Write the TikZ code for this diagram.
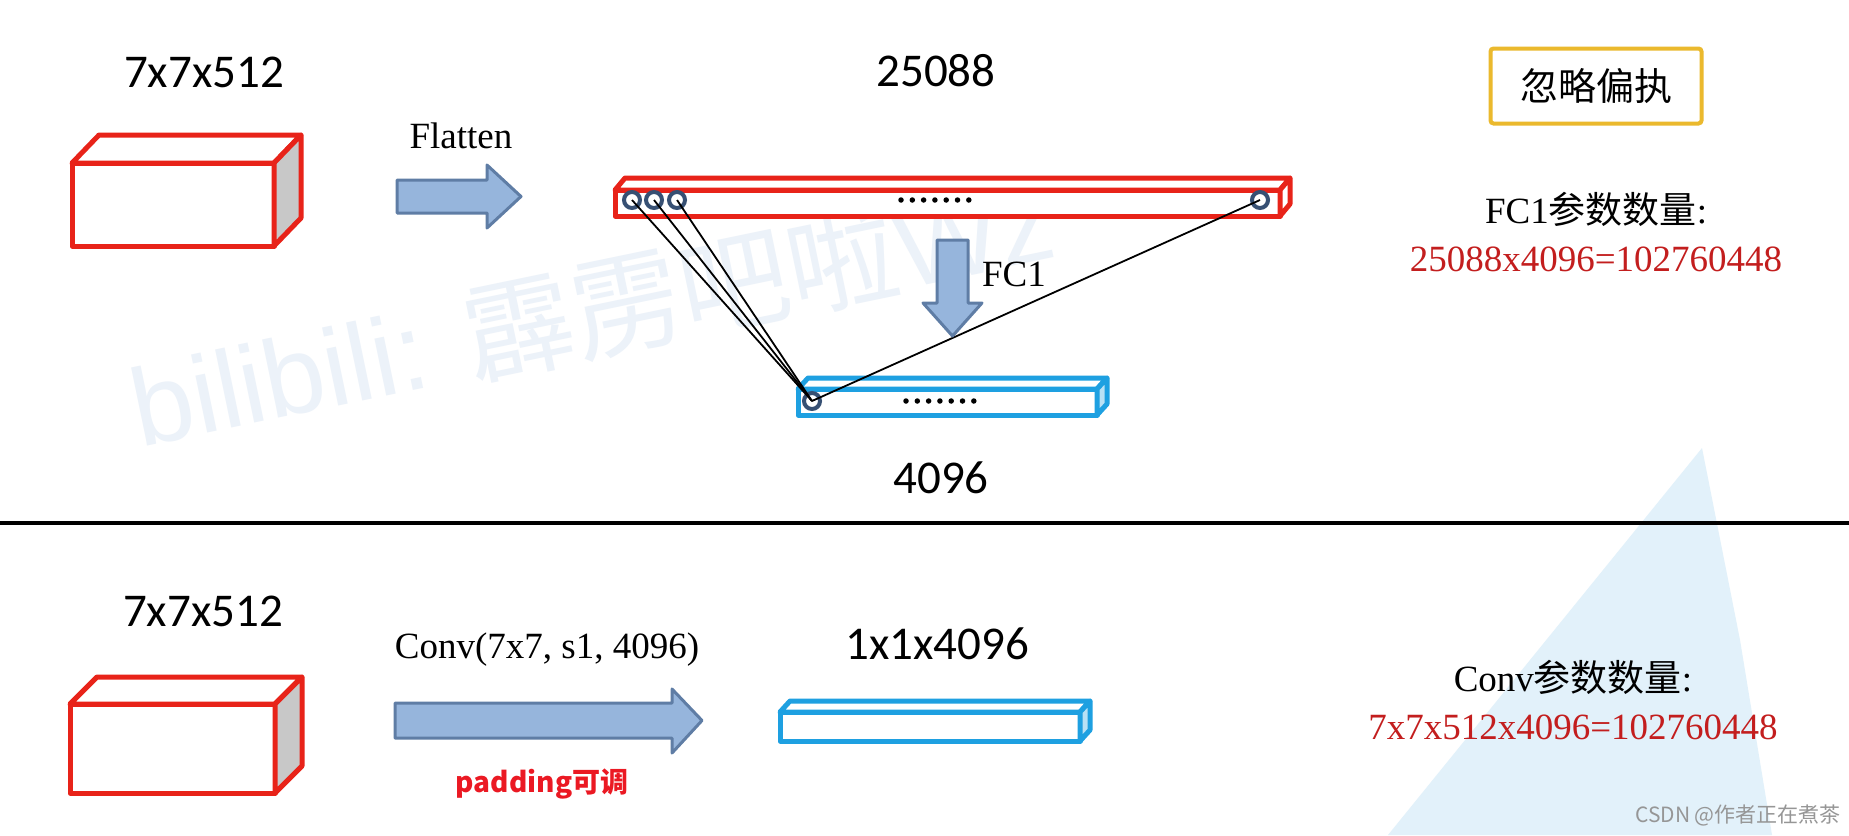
\documentclass[tikz,border=0pt]{standalone}
\usepackage{fontspec}
\setmainfont{Liberation Serif}
\newfontfamily\calfont{Carlito}
\newfontfamily\cjk{Noto Sans CJK SC}
\newfontfamily\arialfont{Liberation Sans}
\definecolor{boxred}{RGB}{232,35,25}
\definecolor{barblue}{RGB}{30,160,225}
\definecolor{barside}{RGB}{185,225,245}
\definecolor{arrowfill}{RGB}{150,181,220}
\definecolor{arrowedge}{RGB}{95,125,165}
\definecolor{ringcol}{RGB}{55,80,115}
\definecolor{numred}{RGB}{195,30,30}
\definecolor{padred}{RGB}{235,25,35}
\definecolor{ybox}{RGB}{235,185,45}
\definecolor{sidegray}{RGB}{200,200,200}
\definecolor{wmark}{RGB}{236,242,249}
\definecolor{tri}{RGB}{226,241,250}
\definecolor{csdn}{RGB}{150,150,150}
\tikzset{
  redline/.style={draw=boxred, line width=5pt, line join=round, fill=white},
  blueline/.style={draw=barblue, line width=5pt, line join=round, fill=white},
  blockarrow/.style={draw=arrowedge, fill=arrowfill, line width=3pt, line join=round},
  neuron/.style={circle, draw=ringcol, line width=4pt, minimum size=16pt, inner sep=0pt},
  dot/.style={circle, fill=black, minimum size=5.5pt, inner sep=0pt},
  link/.style={draw=black, line width=1.8pt},
  calib/.style={inner sep=0pt, font=\calfont\fontsize{47}{50}\selectfont},
  times/.style={inner sep=0pt, font=\fontsize{37}{40}\selectfont},
  rednum/.style={inner sep=0pt, text=numred, font=\fontsize{37}{40}\selectfont},
}
\begin{document}
\begin{tikzpicture}[x=1pt,y=-1pt]
\useasboundingbox[fill=white] (0,0) rectangle (1849,835);
% background triangle
\fill[tri] (1702,448) -- (1740,640) -- (1772,835) -- (1388,835) -- cycle;
% watermark
\node[text=wmark, rotate=11.7, anchor=base, inner sep=0pt, font=\fontsize{110}{115}\selectfont] (wm) at (600,352) {\arialfont bilibili: {\cjk 霹雳吧啦}Wz};
% ---------- top part ----------
\node[calib] (t1) at (204,72) {7x7x512};
\draw[redline] (72,163) rectangle (274,246);
\draw[redline] (72,163) -- (99,135) -- (301,135) -- (274,163) -- cycle;
\draw[redline, fill=sidegray] (274,163) -- (301,135) -- (301,218) -- (274,246) -- cycle;
\node[times] (flat) at (461,136) {Flatten};
\draw[blockarrow] (397,180) -- (487,180) -- (487,165) -- (521,196.5) -- (487,228) -- (487,213) -- (397,213) -- cycle;
\node[calib] (n25088) at (936,71) {25088};
% red bar
\draw[redline] (615,190) rectangle (1280,216);
\draw[redline] (615,190) -- (625,178) -- (1290,178) -- (1280,190) -- cycle;
\draw[redline] (1280,190) -- (1290,178) -- (1290,204) -- (1280,216) -- cycle;
% blue bar
\draw[blueline] (798,389) rectangle (1097,415);
\draw[blueline] (798,389) -- (808,378) -- (1107,378) -- (1097,389) -- cycle;
\draw[blueline, fill=barside] (1097,389) -- (1107,378) -- (1107,404) -- (1097,415) -- cycle;
% neurons
\node[neuron] (r1) at (632,200) {};
\node[neuron] (r2) at (654,200) {};
\node[neuron] (r3) at (677,200) {};
\node[neuron] (r4) at (1260,200) {};
\node[neuron] (b1) at (812,401) {};
\foreach \i in {0,...,6} {
  \node[dot] (rd\i) at ({901+11.3*\i},200) {};
  \node[dot] (bd\i) at ({906+11.3*\i},401) {};
}
\draw[link] (r1.center) -- (b1.center);
\draw[link] (r2.center) -- (b1.center);
\draw[link] (r3.center) -- (b1.center);
\draw[link] (r4.center) -- (b1.center);
% FC1 arrow
\draw[blockarrow] (937,240) -- (968,240) -- (968,303) -- (982,303) -- (952.5,336) -- (923,303) -- (937,303) -- cycle;
\node[times] (fc1) at (1014,274) {FC1};
\node[calib] (n4096) at (941,478) {4096};
% right side
\node[draw=ybox, line width=4pt, rounded corners=3pt, minimum width=211pt, minimum height=75pt, inner sep=0pt, font=\cjk\fontsize{38}{40}\selectfont] (ign) at (1596,86) {忽略偏执};
\node[times] (fcp) at (1596,209) {FC1{\cjk 参数数量}:};
\node[rednum] (fcv) at (1596,259) {25088x4096=102760448};
% separator
\draw[line width=4pt] (0,523) -- (1849,523);
% ---------- bottom part ----------
\node[calib] (t2) at (203,611) {7x7x512};
\draw[redline] (70,704) rectangle (275,793);
\draw[redline] (70,704) -- (97,677) -- (302,677) -- (275,704) -- cycle;
\draw[redline, fill=sidegray] (275,704) -- (302,677) -- (302,766) -- (275,793) -- cycle;
\node[times] (conv) at (547,650) {Conv(7x7, s1, 4096)};
\draw[blockarrow] (395,703) -- (672,703) -- (672,689) -- (702,720.5) -- (672,753) -- (672,738) -- (395,738) -- cycle;
\node[inner sep=0pt, text=padred, font=\cjk\bfseries\fontsize{28}{30}\selectfont] (pad) at (542,784) {padding可调};
\node[calib] (n1x1) at (937,644) {1x1x4096};
\draw[blueline] (780,712) rectangle (1080,741);
\draw[blueline] (780,712) -- (790,701) -- (1090,701) -- (1080,712) -- cycle;
\draw[blueline, fill=barside] (1080,712) -- (1090,701) -- (1090,730) -- (1080,741) -- cycle;
\node[times] (convp) at (1573,677) {Conv{\cjk 参数数量}:};
\node[rednum] (convv) at (1573,727) {7x7x512x4096=102760448};
\node[inner sep=0pt, text=csdn, font=\cjk\fontsize{21}{22}\selectfont] (csdn) at (1738,815) {CSDN @作者正在煮茶};
\end{tikzpicture}
\end{document}
